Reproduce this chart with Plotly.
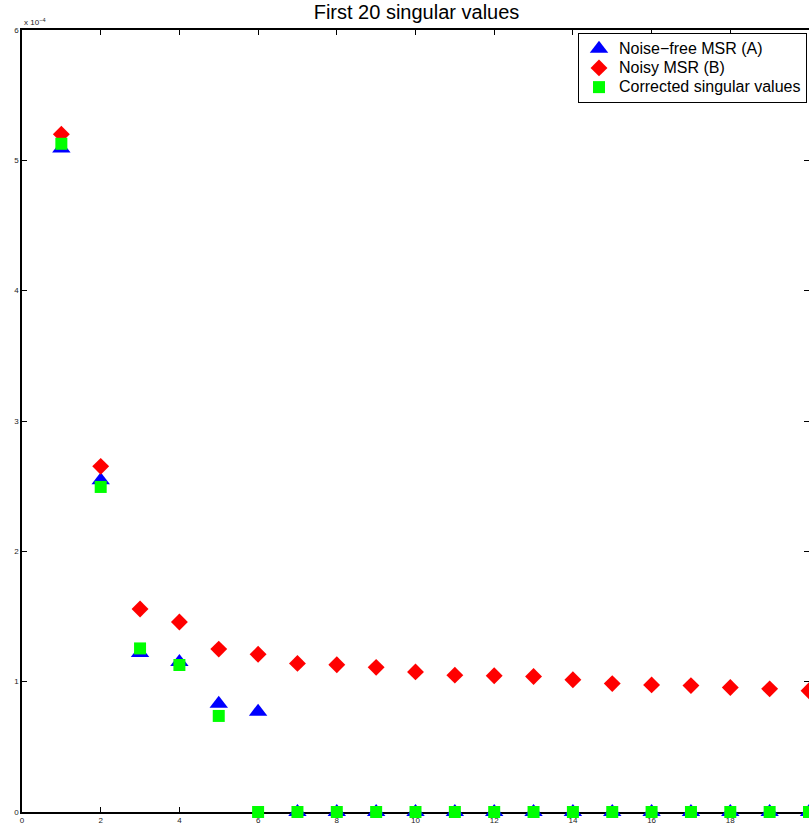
import plotly.graph_objects as go

idx = list(range(1, 21))
noise_free_A = [5.09e-4, 2.545e-4, 1.22e-4, 1.15e-4, 0.83e-4, 0.77e-4] + [0.0] * 14
noisy_B = [5.20e-4, 2.652e-4, 1.558e-4, 1.458e-4, 1.25e-4, 1.21e-4, 1.14e-4, 1.13e-4,
           1.11e-4, 1.075e-4, 1.05e-4, 1.045e-4, 1.04e-4, 1.015e-4, 0.985e-4, 0.975e-4,
           0.97e-4, 0.955e-4, 0.945e-4, 0.93e-4]
corrected_C = [5.127e-4, 2.494e-4, 1.255e-4, 1.128e-4, 0.737e-4] + [0.0] * 15

y_tickvals = [0, 1e-4, 2e-4, 3e-4, 4e-4, 5e-4, 6e-4]
y_ticktext = ["0", "1", "2", "3", "4", "5", "6"]
x_tickvals = [0, 2, 4, 6, 8, 10, 12, 14, 16, 18, 20]

def big(s):
    return '<span style="font-size:16px">' + s + '</span>'

fig = go.Figure()
fig.add_trace(go.Scatter(x=idx, y=noise_free_A, mode="markers", name=big("Noise\u2212free MSR (A)"),
                         marker=dict(symbol="triangle-up", size=16, color="#0000ff"),
                         cliponaxis=False))
fig.add_trace(go.Scatter(x=idx, y=noisy_B, mode="markers", name=big("Noisy MSR (B)"),
                         marker=dict(symbol="diamond", size=13, color="#ff0000"),
                         cliponaxis=False))
fig.add_trace(go.Scatter(x=idx, y=corrected_C, mode="markers", name=big("Corrected singular values"),
                         marker=dict(symbol="square", size=12, color="#00ff00"),
                         cliponaxis=False))
# invisible trace to anchor the right-side tick axis
fig.add_trace(go.Scatter(x=[0], y=[0], yaxis="y2", mode="markers", showlegend=False,
                         hoverinfo="skip", marker=dict(opacity=0)))

tickfont = dict(family="Liberation Sans, Arial, sans-serif", size=8, color="#222")
fig.update_layout(
    width=809, height=828,
    margin=dict(l=22, r=0, t=30, b=16),
    paper_bgcolor="white", plot_bgcolor="white",
    font=dict(family="Liberation Sans, Arial, sans-serif", color="black"),
    title=dict(text="First 20 singular values", x=(22 + 811) / 2 / 809, xanchor="center",
               y=1 - 12 / 828, yanchor="middle", yref="container",
               font=dict(size=20, color="black")),
    xaxis=dict(range=[0, 20], tickvals=x_tickvals, ticks="inside", ticklen=5,
               tickwidth=1, tickcolor="black", showline=True, linecolor="black",
               linewidth=1.5, mirror="ticks", showgrid=False, zeroline=False,
               tickfont=tickfont, layer="below traces"),
    yaxis=dict(range=[0, 6e-4], tickvals=y_tickvals, ticktext=y_ticktext,
               ticks="inside", ticklen=5, tickwidth=1, tickcolor="black",
               showline=True, linecolor="black", linewidth=1.5, mirror=False,
               showgrid=False, zeroline=False, tickfont=tickfont, layer="below traces"),
    yaxis2=dict(range=[0, 6e-4], overlaying="y", side="right", tickvals=y_tickvals,
                ticks="inside", ticklen=5, tickwidth=1, tickcolor="black",
                showline=False, showticklabels=False, showgrid=False, zeroline=False),
    legend=dict(x=(807 - 22) / 787, xanchor="right", y=(812 - 33) / 782, yanchor="top",
                bordercolor="black", borderwidth=1, bgcolor="white",
                font=dict(size=12.5, color="black"), tracegroupgap=0),
    showlegend=True,
    annotations=[dict(text="x 10<sup>\u22124</sup>", xref="paper", yref="paper",
                      x=0, y=1, xanchor="left", yanchor="bottom", showarrow=False,
                      yshift=1, font=dict(size=8, color="#222"))],
)

fig.write_html("out.html")
